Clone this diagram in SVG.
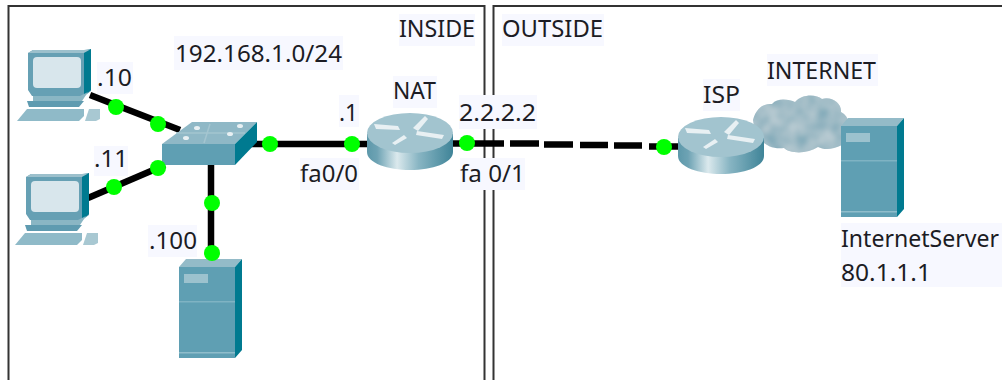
<svg xmlns="http://www.w3.org/2000/svg" width="1002" height="380" viewBox="0 0 1002 380">
<style>
.t{font-family:"Noto Sans","Liberation Sans",sans-serif;font-size:24px;fill:#1c1c24}
.bg{fill:#f7f8ff}
.frame{fill:none;stroke:#333;stroke-width:2}
.link{fill:none;stroke:#000;stroke-width:6.500}
.dot{fill:#0f0}
.soft{filter:url(#soft)}
</style>
<defs>
<filter id="soft" x="-5%" y="-5%" width="110%" height="110%"><feGaussianBlur stdDeviation="0.6"/></filter>
<filter id="mottle" x="-5%" y="-5%" width="110%" height="110%">
<feTurbulence type="fractalNoise" baseFrequency="0.06" numOctaves="2" seed="4" result="n"/>
<feColorMatrix in="n" type="matrix" values="0 0 0 0 0.72  0 0 0 0 0.77  0 0 0 0 0.79  0.9 0 0 0 -0.2" result="c"/>
<feGaussianBlur in="c" stdDeviation="1.500" result="cb"/>
<feComposite in="cb" in2="SourceAlpha" operator="in" result="m"/>
<feMerge result="o"><feMergeNode in="SourceGraphic"/><feMergeNode in="m"/></feMerge>
<feGaussianBlur in="o" stdDeviation="0.6"/>
</filter>
<linearGradient id="rg" x1="0" x2="1" y1="0" y2="0">
<stop offset="0" stop-color="#5d98aa"/><stop offset=".12" stop-color="#6ea3b4"/><stop offset=".35" stop-color="#dbe9ed"/><stop offset=".6" stop-color="#88b5c3"/><stop offset="1" stop-color="#3f8498"/>
</linearGradient>
<g id="pc">
<path d="M28 53 L33 50 H84 L91 49 V91 L84 96 H32 L28 90Z" fill="#66a0b4"/>
<path d="M28 53 L33 50 H91 L84 53Z" fill="#9cc0cc"/>
<path d="M84 53 L91 49 V90 L84 96Z" fill="#007a90"/>
<rect x="33" y="57" width="48" height="31" rx="4" fill="#d8e6ec"/>
<path d="M33 96 H80 L88 92 L82 101 H33Z" fill="#8ab6c4"/>
<path d="M27 101 H84 L79 107 H29Z" fill="#5f9bb0"/>
<path d="M17 121 L27 109 H84 L84 116 L79 121Z" fill="#8fbac8"/>
<path d="M85 121 L89 109 H100 L100 119 L96 121Z" fill="#a8c8d2"/>
</g>
<g id="server">
<path d="M179 267 L186 259 H242 L235 267Z" fill="#94bbc8"/>
<path d="M235 267 L242 259 V350 L235 358Z" fill="#007a90"/>
<rect x="179" y="267" width="56" height="91" fill="#5f9fb3"/>
<rect x="184" y="274" width="24" height="9" fill="#9cc2ce"/>
<rect x="179" y="301" width="56" height="1.500" fill="#7fb3c3"/>
<rect x="179" y="352" width="56" height="1.500" fill="#8fbdcb"/>
</g>
<g id="router">
<path d="M367 134 V152 C367 163 388 170 410 170 C432 170 453 163 453 152 V134Z" fill="url(#rg)"/>
<ellipse cx="410" cy="133" rx="43" ry="20" fill="#a2c4cf"/>
<g fill="#e8f0f3">
<path d="M374 124 L398 126 L400 130 L376 129Z"/>
<path d="M413 128 L425 116 L428 119 L418 131Z"/>
<path d="M417 131 L444 135 L442 139 L416 135Z"/>
<path d="M392 143 L404 135 L407 138 L395 145Z"/>
</g>
</g>
</defs>
<rect width="1002" height="380" fill="#fff"/>
<path class="frame" d="M8.500 380 V6 H484.500 V380"/>
<path class="frame" d="M493.500 380 V6 H1002"/>
<g id="connectors">
<path class="link" d="M90 95 L180 130"/>
<path class="link" d="M88 198 L165 165"/>
<path class="link" d="M211 160 V258"/>
<path class="link" d="M250 144 H370"/>
<path class="link" d="M450 143.500 H504"/>
<path class="link" d="M510 143.500 H539 M544 144.500 H573 M580 145 H608 M614 145.500 H642 M649 146.500 H680"/>
</g>
<g id="pc1" class="soft"><use href="#pc"/></g>
<g id="pc2" class="soft"><use href="#pc" x="-2" y="124"/></g>
<g id="switch" class="soft">
<path d="M162 144 L192 122 H257 L235 144Z" fill="#8fb8c6"/>
<path d="M235 144 L257 122 V142 L235 165Z" fill="#007a90"/>
<rect x="162" y="144" width="73" height="21" fill="#5f9fb3"/>
<path d="M176 133 H245 M210 124 L204 143" stroke="#a4c5d0" stroke-width="1.500" fill="none"/>
<g fill="#e8f0f3"><ellipse cx="197" cy="128" rx="3" ry="2"/><ellipse cx="240" cy="126" rx="3" ry="2"/><ellipse cx="186" cy="138" rx="3" ry="2"/><ellipse cx="230" cy="134" rx="3" ry="2"/></g>
</g>
<g id="router-nat" class="soft"><use href="#router"/></g>
<g id="cloud">
<path d="M753 120 C756 108 764 103 772 104 C778 97 790 100 795 102 C802 94 816 94 822 99 C832 96 842 104 841 112 C848 116 850 122 846 126 L842 145 C832 150 824 150 818 147 C808 154 790 154 784 148 C772 150 756 144 753 120Z" fill="#87adbb" filter="url(#mottle)"/>
</g>
<g id="router-isp" class="soft"><use href="#router" x="311" y="4"/></g>
<g id="server-lan" class="soft"><use href="#server"/></g>
<g id="server-internet" class="soft"><use href="#server" x="662" y="-141"/></g>
<g id="dots">
<circle class="dot" cx="116" cy="107" r="8"/><circle class="dot" cx="158" cy="124" r="8"/>
<circle class="dot" cx="158" cy="168" r="8"/><circle class="dot" cx="114" cy="187" r="8"/>
<circle class="dot" cx="270" cy="144" r="8"/><circle class="dot" cx="212" cy="203" r="8"/>
<circle class="dot" cx="212" cy="253" r="8"/><circle class="dot" cx="352" cy="144" r="8"/>
<circle class="dot" cx="467" cy="143" r="8"/><circle class="dot" cx="664" cy="147" r="8"/>
</g>
<g id="labels">
<rect class="bg" x="174" y="36" width="169" height="34"/><text class="t" x="175" y="62" textLength="167" lengthAdjust="spacingAndGlyphs">192.168.1.0/24</text>
<rect class="bg" x="97" y="62" width="36" height="32"/><text class="t" x="97" y="86" textLength="35" lengthAdjust="spacingAndGlyphs">.10</text>
<rect class="bg" x="94" y="146" width="34" height="30"/><text class="t" x="94" y="167" textLength="34" lengthAdjust="spacingAndGlyphs">.11</text>
<rect class="bg" x="148" y="225" width="49" height="32"/><text class="t" x="149" y="249" textLength="48" lengthAdjust="spacingAndGlyphs">.100</text>
<rect class="bg" x="399" y="14" width="76" height="32"/><text class="t" x="399" y="37" textLength="76" lengthAdjust="spacingAndGlyphs">INSIDE</text>
<rect class="bg" x="502" y="14" width="102" height="32"/><text class="t" x="502" y="37" textLength="101" lengthAdjust="spacingAndGlyphs">OUTSIDE</text>
<rect class="bg" x="393" y="76" width="44" height="32"/><text class="t" x="393" y="99" textLength="43" lengthAdjust="spacingAndGlyphs">NAT</text>
<rect class="bg" x="339" y="95" width="20" height="32"/><text class="t" x="339" y="121" textLength="19" lengthAdjust="spacingAndGlyphs">.1</text>
<rect class="bg" x="459" y="95" width="78" height="34"/><text class="t" x="459" y="121" textLength="77" lengthAdjust="spacingAndGlyphs">2.2.2.2</text>
<rect class="bg" x="300" y="158" width="59" height="32"/><text class="t" x="300" y="182" textLength="58" lengthAdjust="spacingAndGlyphs">fa0/0</text>
<rect class="bg" x="460" y="158" width="65" height="32"/><text class="t" x="460" y="182" textLength="65" lengthAdjust="spacingAndGlyphs">fa 0/1</text>
<rect class="bg" x="703" y="79" width="37" height="32"/><text class="t" x="703" y="103" textLength="37" lengthAdjust="spacingAndGlyphs">ISP</text>
<rect class="bg" x="767" y="54" width="111" height="32"/><text class="t" x="767" y="79" textLength="109" lengthAdjust="spacingAndGlyphs">INTERNET</text>
<rect class="bg" x="841" y="223" width="161" height="32"/><text class="t" x="841" y="247" style="font-size:23px" textLength="158" lengthAdjust="spacingAndGlyphs">InternetServer</text>
<rect class="bg" x="841" y="255" width="161" height="32"/><text class="t" x="841" y="281" textLength="90" lengthAdjust="spacingAndGlyphs">80.1.1.1</text>
</g>
</svg>
